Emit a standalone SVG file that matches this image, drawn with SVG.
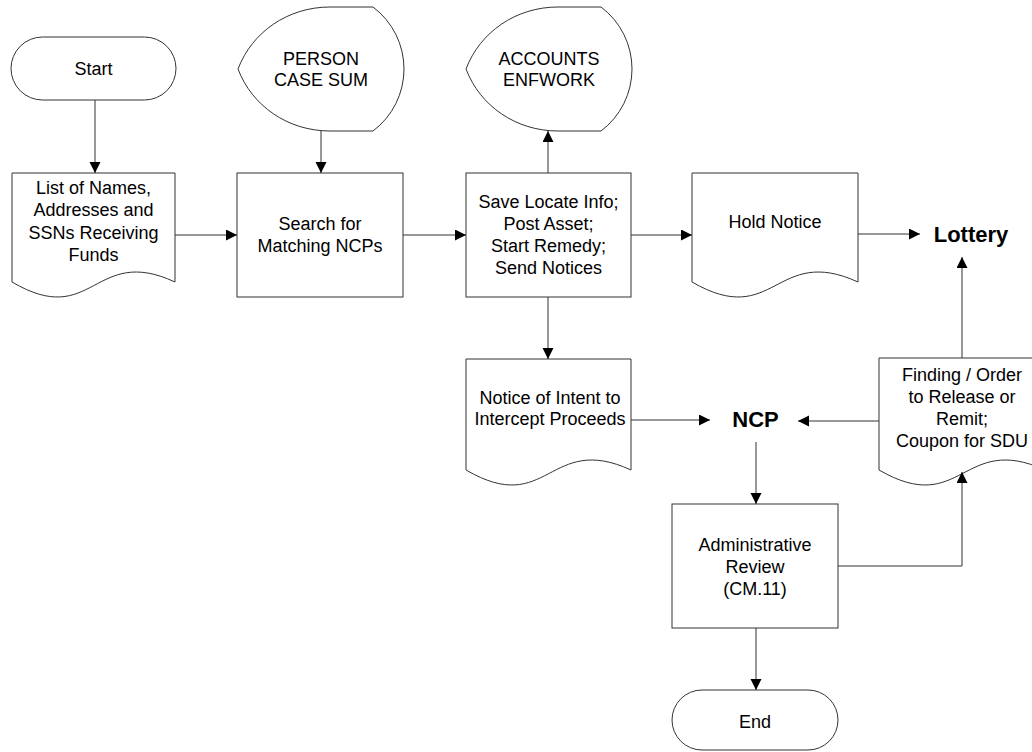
<svg xmlns="http://www.w3.org/2000/svg" width="1032" height="752" viewBox="0 0 1032 752">
<defs>
<style>
.s{fill:#fff;stroke:#333;stroke-width:1}
.c{fill:none;stroke:#333;stroke-width:1}
.t{font-family:"Liberation Sans",Arial,sans-serif;font-size:18px;fill:#000;text-anchor:middle}
.b{font-family:"Liberation Sans",Arial,sans-serif;font-size:22px;font-weight:bold;fill:#000;text-anchor:middle}
</style>
<marker id="ah" markerUnits="userSpaceOnUse" markerWidth="12" markerHeight="12" refX="11" refY="5.5" orient="auto">
<path d="M0,0 L11,5.5 L0,11 Z" fill="#000"/>
</marker>
</defs>
<rect width="1032" height="752" fill="#fff"/>

<g id="start">
<rect class="s" x="11" y="37" width="165" height="63" rx="31.5"/>
<text class="t" x="93.5" y="75">Start</text>
</g>

<g id="list">
<path class="s" d="M12,173 H175 V282 C93.5,244 93.5,330 12,282 Z"/>
<text class="t" x="93.5" y="193.5">List of Names,</text>
<text class="t" x="93.5" y="216">Addresses and</text>
<text class="t" x="93.5" y="238.5">SSNs Receiving</text>
<text class="t" x="93.5" y="260.5">Funds</text>
</g>

<g id="person">
<path class="s" d="M238,69 C252,32 288,7 330,7 L373,7 A77.5,77.5 0 0 1 373,131 L330,131 C288,131 252,106 238,69 Z"/>
<text class="t" x="321" y="64.5">PERSON</text>
<text class="t" x="321" y="86">CASE SUM</text>
</g>

<g id="search">
<rect class="s" x="237" y="173" width="166" height="124"/>
<text class="t" x="320" y="229.5">Search for</text>
<text class="t" x="320" y="252">Matching NCPs</text>
</g>

<g id="accounts">
<path class="s" d="M466,69 C480,32 516,7 558,7 L601,7 A77.5,77.5 0 0 1 601,131 L558,131 C516,131 480,106 466,69 Z"/>
<text class="t" x="549" y="64.5">ACCOUNTS</text>
<text class="t" x="549" y="86">ENFWORK</text>
</g>

<g id="save">
<rect class="s" x="466" y="173" width="165" height="124"/>
<text class="t" x="548.5" y="207.5">Save Locate Info;</text>
<text class="t" x="548.5" y="229.5">Post Asset;</text>
<text class="t" x="548.5" y="252">Start Remedy;</text>
<text class="t" x="548.5" y="274">Send Notices</text>
</g>

<g id="hold">
<path class="s" d="M692,173 H858 V282 C775,244 775,330 692,282 Z"/>
<text class="t" x="775" y="228">Hold Notice</text>
</g>

<g id="lottery">
<text class="b" x="971" y="242">Lottery</text>
</g>

<g id="notice">
<path class="s" d="M466,359 H631 V470 C548.5,432 548.5,518 466,470 Z"/>
<text class="t" x="550" y="403.5">Notice of Intent to</text>
<text class="t" x="550" y="424.5">Intercept Proceeds</text>
</g>

<g id="ncp">
<text class="b" x="755.5" y="427">NCP</text>
</g>

<g id="finding">
<path class="s" d="M879,358 H1045 V470 C962,432 962,518 879,470 Z"/>
<text class="t" x="962" y="380.5">Finding / Order</text>
<text class="t" x="962" y="402.5">to Release or</text>
<text class="t" x="962" y="424.5">Remit;</text>
<text class="t" x="962" y="446.5">Coupon for SDU</text>
</g>

<g id="admin">
<rect class="s" x="672" y="504" width="166" height="124"/>
<text class="t" x="755" y="550.5">Administrative</text>
<text class="t" x="755" y="572.5">Review</text>
<text class="t" x="755" y="594.5">(CM.11)</text>
</g>

<g id="end">
<rect class="s" x="672" y="690" width="166" height="60" rx="30"/>
<text class="t" x="755" y="728">End</text>
</g>

<g id="connectors">
<path class="c" marker-end="url(#ah)" d="M95,100 V173"/>
<path class="c" marker-end="url(#ah)" d="M175,235 H237"/>
<path class="c" marker-end="url(#ah)" d="M321,131 V173"/>
<path class="c" marker-end="url(#ah)" d="M403,235 H466"/>
<path class="c" marker-end="url(#ah)" d="M548,173 V131"/>
<path class="c" marker-end="url(#ah)" d="M631,235 H692"/>
<path class="c" marker-end="url(#ah)" d="M548,297 V359"/>
<path class="c" marker-end="url(#ah)" d="M858,234 H920"/>
<path class="c" marker-end="url(#ah)" d="M631,420 H710"/>
<path class="c" marker-end="url(#ah)" d="M879,421 H798"/>
<path class="c" marker-end="url(#ah)" d="M962,358 V257"/>
<path class="c" marker-end="url(#ah)" d="M756,442 V504"/>
<path class="c" marker-end="url(#ah)" d="M756,628 V690"/>
<path class="c" marker-end="url(#ah)" d="M838,566 H962 V472"/>
</g>
</svg>
